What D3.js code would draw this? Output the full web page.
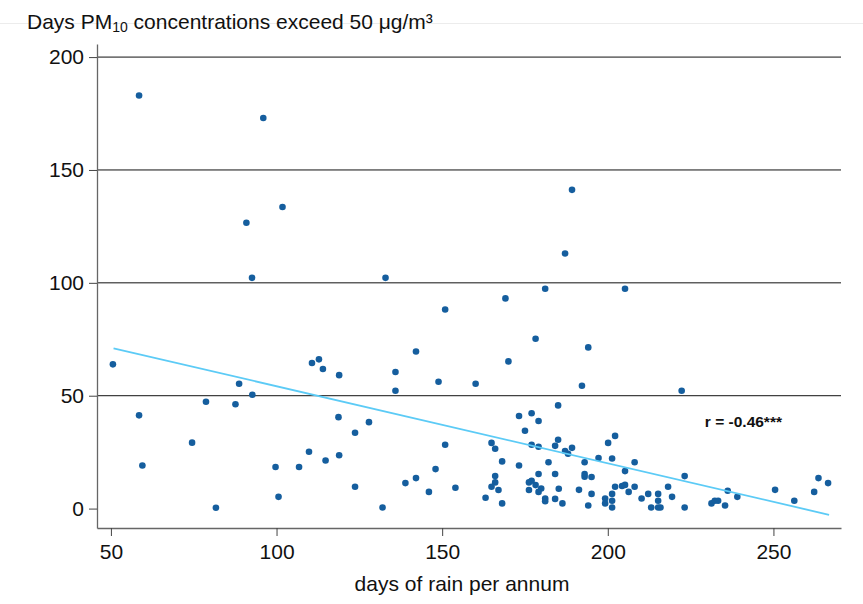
<!DOCTYPE html>
<html>
<head>
<meta charset="utf-8">
<script src="https://cdn.jsdelivr.net/npm/d3@7"></script>
<style>
	body { margin: 0; background: #fff; }
	text { font-family: Arial, "Liberation Sans", sans-serif; }
</style>
</head>
<body>
<div id="chart-area"></div>
<script>
// Rain days per annum (x) vs days PM10 exceeds 50 µg/m³ (y)
let rainDays = [
	58.5, 96.0, 90.9, 101.8, 92.6,
	50.6, 58.5, 59.5, 74.5, 78.7, 81.7, 87.6, 88.7, 92.7, 99.7, 100.6, 106.8, 109.8, 110.7, 112.8,
	114.0, 114.8, 118.9, 118.7, 118.9,
	189.2, 187.1, 132.9, 181.1, 205.2, 169.1, 150.9, 178.2, 194.1, 142.1,
	135.9, 135.9, 148.9, 160.1, 170.0, 192.2, 123.7, 127.9, 123.7, 132.0, 138.9, 142.1, 146.0, 148.0,
	150.9, 154.0, 163.1, 164.9, 166.0, 168.1, 166.0, 166.0, 164.9, 167.0, 168.1,
	173.2, 177.0, 179.1, 175.0, 185.0, 177.0, 179.1, 185.0, 184.1, 187.1, 188.0, 189.2,
	173.2, 182.1, 193.0, 197.2, 201.3, 200.1, 202.2, 179.1, 184.1, 193.0, 193.0, 195.1, 205.2,
	176.2, 177.0, 178.2, 179.9, 179.1, 176.2, 181.1, 181.1, 184.1, 185.2, 186.3, 191.3, 195.1, 194.1,
	199.2, 199.2, 201.3, 201.3, 201.3, 202.2, 204.3, 205.2, 206.3,
	222.3, 208.1, 208.1, 210.2, 212.2, 213.1, 215.2, 215.2, 215.2, 215.9, 218.2, 219.4, 223.2, 223.2,
	231.3, 232.3, 233.3, 235.4, 236.2, 239.1, 250.5, 256.3, 262.3, 263.6, 266.5
];
let exceedDays = [
	183.0, 173.0, 126.6, 133.6, 102.2,
	63.9, 41.3, 19.1, 29.2, 47.3, 0.4, 46.2, 55.3, 50.4, 18.4, 5.2, 18.4, 25.2, 64.5, 66.1,
	61.8, 21.3, 59.1, 40.5, 23.6,
	141.2, 113.0, 102.2, 97.4, 97.4, 93.1, 88.2, 75.2, 71.4, 69.6,
	60.5, 52.2, 56.2, 55.3, 65.2, 54.4, 33.6, 38.3, 9.7, 0.5, 11.3, 13.5, 7.4, 17.5,
	28.3, 9.2, 4.8, 29.1, 26.5, 20.9, 14.4, 11.6, 9.7, 8.2, 2.3,
	41.0, 42.2, 38.8, 34.5, 45.7, 28.3, 27.4, 30.5, 27.8, 25.5, 24.3, 26.9,
	19.1, 20.5, 20.5, 22.4, 22.2, 29.1, 32.2, 15.3, 15.3, 15.3, 14.1, 14.0, 16.6,
	11.6, 12.3, 10.4, 8.9, 7.4, 8.2, 4.5, 3.3, 4.3, 8.8, 2.3, 8.3, 6.5, 1.4,
	4.5, 2.3, 6.5, 3.5, 0.5, 9.7, 10.0, 10.5, 7.4,
	52.2, 20.5, 9.7, 4.5, 6.5, 0.5, 6.5, 3.5, 0.5, 0.5, 9.7, 5.2, 14.4, 0.5,
	2.3, 3.5, 3.5, 1.4, 7.9, 5.2, 8.3, 3.5, 7.4, 13.5, 11.3
];

// Fitted line end points (x, y)
let fitX = [50.8, 266.8];
let fitY = [71.0, -2.75];

let xTicks = [50, 100, 150, 200, 250];
let yTicks = [0, 50, 100, 150, 200];
let yGrid = [50, 100, 150, 200];
let corrLabel = "r = -0.46***";

let width = 863,
	height = 604;

// Plot region edges in pixels
let plot = {left: 97, right: 841, top: 44, bottom: 528};

let data = rainDays.map((d, i) => ({x: d, y: exceedDays[i]}));

let svg = d3.select("#chart-area")
	.append("svg")
	.attr("width", width)
	.attr("height", height);

let xScale = d3.scaleLinear()
	.domain([45.8, 270.4])
	.range([plot.left, plot.right]);

let yScale = d3.scaleLinear()
	.domain([-8.6, 205.8])
	.range([plot.bottom, plot.top]);

// faint rule behind the title
svg.append("line")
	.attr("x1", 0).attr("x2", width)
	.attr("y1", 23.5).attr("y2", 23.5)
	.attr("stroke", "#ececec")
	.attr("stroke-width", 1);

// Title
let title = svg.append("text")
	.attr("x", 27)
	.attr("y", 29)
	.attr("font-size", 21)
	.attr("fill", "#111");
title.append("tspan").text("Days PM");
title.append("tspan").attr("font-size", 14).attr("dy", 3).text("10");
title.append("tspan").attr("dy", -3).text(" concentrations exceed 50 μg/m³");

// Grid lines
svg.append("g")
	.selectAll("line")
	.data(yGrid)
	.enter()
	.append("line")
	.attr("x1", plot.left)
	.attr("x2", plot.right)
	.attr("y1", d => yScale(d))
	.attr("y2", d => yScale(d))
	.attr("stroke", "#111")
	.attr("stroke-width", 1);

// Axes
let xAxis = d3.axisBottom(xScale)
	.tickValues(xTicks)
	.tickSizeInner(8)
	.tickSizeOuter(0)
	.tickPadding(8);

let yAxis = d3.axisLeft(yScale)
	.tickValues(yTicks)
	.tickSizeInner(8)
	.tickSizeOuter(0)
	.tickPadding(5);

let xGroup = svg.append("g")
	.attr("class", "axis x-axis")
	.attr("transform", "translate(0," + plot.bottom + ")")
	.call(xAxis);

let yGroup = svg.append("g")
	.attr("class", "axis y-axis")
	.attr("transform", "translate(" + plot.left + ",0)")
	.call(yAxis);

[xGroup, yGroup].forEach(g => {
	g.select(".domain").attr("stroke", "#666").attr("stroke-width", 1.3);
	g.selectAll(".tick line").attr("stroke", "#444");
	g.selectAll(".tick text")
		.attr("font-size", 21)
		.attr("fill", "#111")
		.attr("font-family", "Arial, 'Liberation Sans', sans-serif");
});

// x label
svg.append("text")
	.attr("x", 462)
	.attr("y", 591)
	.attr("text-anchor", "middle")
	.attr("font-size", 21)
	.attr("fill", "#111")
	.text("days of rain per annum");

// Scatter points
svg.append("g")
	.selectAll("circle")
	.data(data)
	.enter()
	.append("circle")
	.attr("cx", d => xScale(d.x))
	.attr("cy", d => yScale(d.y))
	.attr("r", 3.3)
	.attr("fill", "#155e9e");

// Fitted line
let line = d3.line()
	.x(d => xScale(d[0]))
	.y(d => yScale(d[1]));

svg.append("path")
	.datum(fitX.map((d, i) => [d, fitY[i]]))
	.attr("d", line)
	.attr("fill", "none")
	.attr("stroke", "#5ccbf6")
	.attr("stroke-width", 1.8);

// Correlation label
svg.append("text")
	.attr("x", xScale(229.3))
	.attr("y", yScale(36.3))
	.attr("font-size", 15.5)
	.attr("font-weight", "bold")
	.attr("fill", "#111")
	.text(corrLabel);
</script>
</body>
</html>
